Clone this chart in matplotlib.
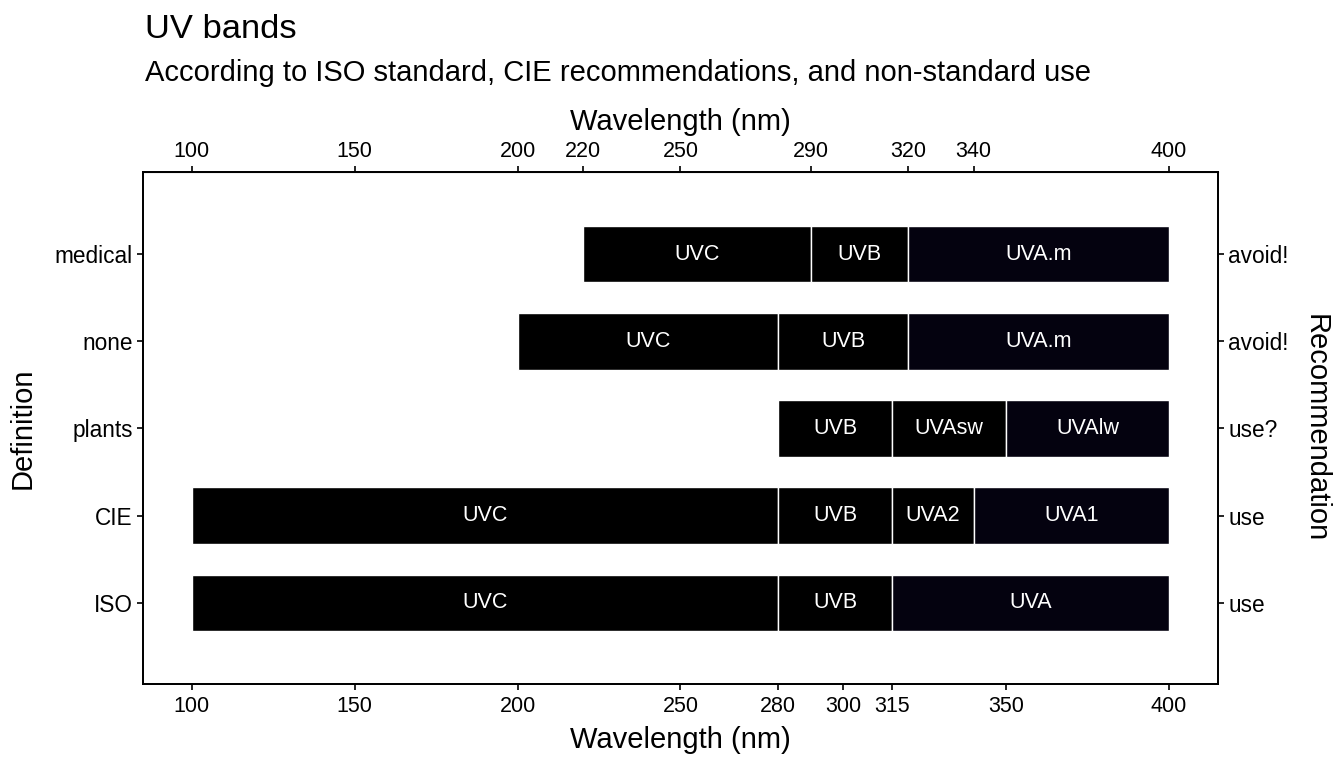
import matplotlib.pyplot as plt
from matplotlib.patches import Rectangle

plt.rcParams['font.family'] = ['Liberation Sans', 'DejaVu Sans']

# band definitions, one list per row (bottom to top)
definitions = ['ISO', 'CIE', 'plants', 'none', 'medical']
recommendation = ['use', 'use', 'use?', 'avoid!', 'avoid!']
band_names = [
    ['UVC', 'UVB', 'UVA'],
    ['UVC', 'UVB', 'UVA2', 'UVA1'],
    ['UVB', 'UVAsw', 'UVAlw'],
    ['UVC', 'UVB', 'UVA.m'],
    ['UVC', 'UVB', 'UVA.m'],
]
band_low = [
    [100, 280, 315],
    [100, 280, 315, 340],
    [280, 315, 350],
    [200, 280, 320],
    [220, 290, 320],
]
band_high = [
    [280, 315, 400],
    [280, 315, 340, 400],
    [315, 350, 400],
    [280, 320, 400],
    [290, 320, 400],
]
bottom_ticks = [100, 150, 200, 250, 280, 300, 315, 350, 400]
top_ticks = [100, 150, 200, 220, 250, 290, 320, 340, 400]

fig = plt.figure(figsize=(13.44, 7.68), dpi=100)
ax = fig.add_axes([0.1064, 0.1094, 0.7998, 0.6666])

bar_h = 0.65
for i, (names, lows, highs) in enumerate(zip(band_names, band_low, band_high)):
    y = i + 1
    for name, lo, hi in zip(names, lows, highs):
        # bands reaching 400 nm carry a faint violet tint
        color = '#04020F' if hi == 400 and name not in ('UVAsw',) else '#000000'
        ax.add_patch(Rectangle((lo, y - bar_h / 2), hi - lo, bar_h,
                               facecolor=color, edgecolor='white', linewidth=1.0))
        ax.text((lo + hi) / 2, y, name, color='white', ha='center', va='center', fontsize=15.5)

ax.set_xlim(85, 415)
ax.set_ylim(0.07, 5.94)
ax.set_xticks(bottom_ticks)
ax.set_yticks(range(1, len(definitions) + 1))
ax.set_yticklabels(definitions)
ax.set_xlabel('Wavelength (nm)', fontsize=21, labelpad=6)
ax.set_ylabel('Definition', fontsize=21, labelpad=13)
ax.tick_params(axis='x', labelsize=15.5, length=4.3, width=1.2, colors='black', pad=4.5)
ax.tick_params(axis='y', labelsize=16.3, length=4.3, width=1.2, colors='black', pad=3)

top = ax.secondary_xaxis('top')
top.set_xticks(top_ticks)
top.set_xlabel('Wavelength (nm)', fontsize=21, labelpad=8)
top.tick_params(labelsize=15.5, length=4.3, width=1.2, pad=3)

right = ax.twinx()
right.set_ylim(ax.get_ylim())
right.set_yticks(range(1, len(recommendation) + 1))
right.set_yticklabels(recommendation)
right.set_ylabel('Recommendation', fontsize=21, rotation=-90, labelpad=30)
right.tick_params(labelsize=16.3, length=4.3, width=1.2, pad=3)

for a in (ax, right):
    for s in a.spines.values():
        s.set_linewidth(1.3)

fig.text(0.1079, 0.961, 'UV bands', fontsize=24.8, va='center')
fig.text(0.1079, 0.905, 'According to ISO standard, CIE recommendations, and non-standard use',
         fontsize=21, va='center')

fig.savefig('out.png', dpi=100)
